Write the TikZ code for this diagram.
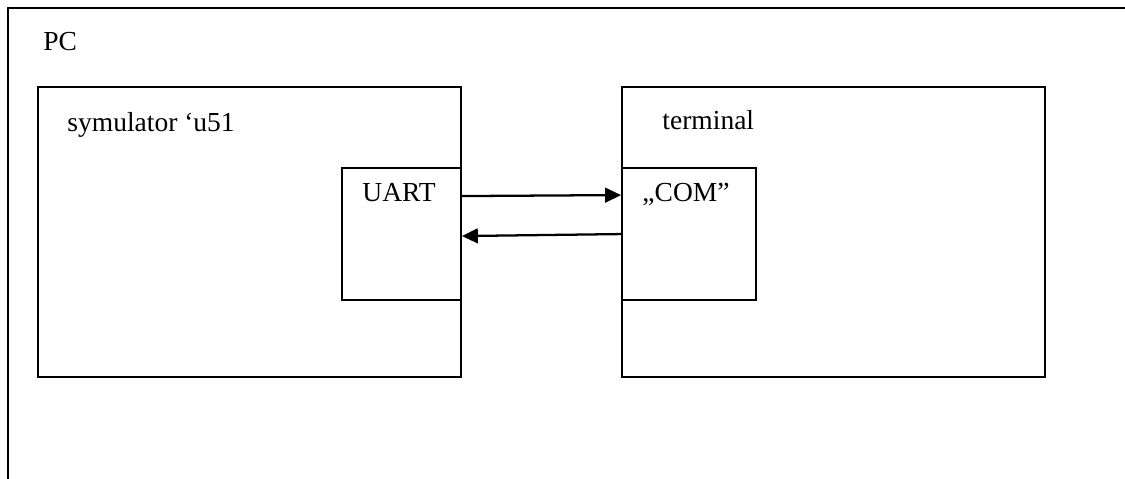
\documentclass[tikz,border=0pt]{standalone}
\usepackage{fontspec}
\setmainfont{Liberation Serif}
\usepackage{tikz}
\usetikzlibrary{
  positioning,
  arrows.meta,
  calc
}
\definecolor{lineBlack}{HTML}{000000}
\tikzset{
  frame/.style   = {rectangle, draw=lineBlack, line width=1.1pt, fill=none,
                    inner sep=0pt},
  box/.style     = {rectangle, draw=lineBlack, line width=0.9pt, fill=white,
                    inner sep=0pt},
  label/.style   = {anchor=base west, inner sep=0pt,
                    font=\fontsize{13.3}{15}\selectfont},
  arrow/.style   = {-{Triangle[length=0.27cm, width=0.25cm]},
                    line width=1.1pt, draw=lineBlack}
}

\begin{document}
\begin{tikzpicture}[x=0.017cm, y=-0.017cm]
  \useasboundingbox (0,0) rectangle (1125,479);
  % PC frame (cut off at the right and bottom)
  \node[frame, minimum width=20.26cm, minimum height=10.06cm] (pc) at (604,304) {};
  \node[label] (pcText) at ($(pc.north west)+(36,44)$) {PC};
  % simulator and terminal windows
  \node[box, minimum width=7.191cm, minimum height=4.93cm] (sym) at (249.5,232) {};
  \node[label] (symText) at ($(sym.north west)+(30,45)$) {symulator ‘u51};
  \node[box, minimum width=7.191cm, minimum height=4.93cm] (term) at (833.5,232) {};
  \node[label] (termText) at ($(term.north west)+(41,43)$) {terminal};
  % ports
  \node[box, minimum width=2.023cm, minimum height=2.244cm] (uart) at (401.5,234) {};
  \node[label] (uartText) at ($(uart.north west)+(21,34)$) {UART};
  \node[box, minimum width=2.278cm, minimum height=2.244cm] (com) at (689,234) {};
  \node[label] (comText) at ($(com.north west)+(21,34)$) {„COM”};
  % data flow
  \draw[arrow] ($(uart.north east)+(0,29)$) -- ($(com.north west)+(0,28)$);
  \draw[arrow] ($(com.north west)+(0,67)$) -- ($(uart.north east)+(0,69)$);
\end{tikzpicture}
\end{document}
